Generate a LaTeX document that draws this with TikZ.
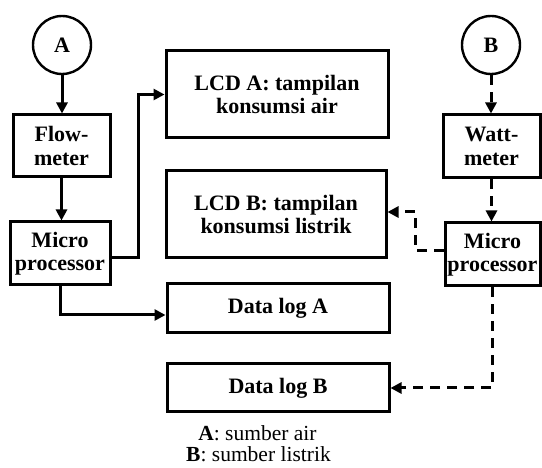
\documentclass[tikz,border=0pt]{standalone}
\usepackage{fontspec}
\setmainfont{Liberation Serif}
\usetikzlibrary{arrows.meta}
\begin{document}
\begin{tikzpicture}[x=1pt,y=-1pt,
  box/.style={draw,line width=3pt,inner sep=0pt,align=center,font=\fontsize{22}{23.5}\selectfont\bfseries},
  src/.style={draw,circle,line width=2.4pt,inner sep=0pt,minimum size=58pt,font=\fontsize{22}{23.5}\selectfont\bfseries},
  arr/.style={line width=3pt,-{Triangle[length=11pt,width=11pt]}},
  darr/.style={arr,dash pattern=on 10pt off 7pt},
  leg/.style={anchor=base,inner sep=0pt,font=\fontsize{21.5}{23}\selectfont}]
\useasboundingbox (0,0) rectangle (542,468);
\node[src] (cA) at (62,45) {A};
\node[box,minimum width=97pt,minimum height=62pt] (flow) at (61.5,146) {Flow-\\meter};
\node[box,minimum width=100pt,minimum height=63pt] (microA) at (60,253.5) {Micro\\processor};
\node[box,minimum width=222pt,minimum height=87pt] (lcdA) at (277,94.5) {LCD A: tampilan\\konsumsi air};
\node[box,minimum width=220pt,minimum height=87pt] (lcdB) at (276,214.5) {LCD B: tampilan\\konsumsi listrik};
\node[box,minimum width=222pt,minimum height=49pt] (logA) at (278,308.5) {Data log A};
\node[box,minimum width=222pt,minimum height=48pt] (logB) at (278,388) {Data log B};
\node[src] (cB) at (491,45) {B};
\node[box,minimum width=97pt,minimum height=63pt] (watt) at (491.5,146.5) {Watt-\\meter};
\node[box,minimum width=95pt,minimum height=63pt] (microB) at (492.5,254.5) {Micro\\processor};
\node[leg] (legA) at (257.5,441) {\textbf{A}: sumber air};
\node[leg] (legB) at (258.5,462) {\textbf{B}: sumber listrik};
% A chain
\draw[arr] (cA.south) -- (cA.south |- flow.north);
\draw[arr] (flow.south) -- (flow.south |- microA.north);
\draw[arr] ([yshift=-4.5pt]microA.east) -- ++(27,0) |- (lcdA.west);
\draw[arr] (microA.south) |- ([yshift=-6.5pt]logA.west);
% B chain
\draw[darr] (cB.south) -- (cB.south |- watt.north);
\draw[darr] (watt.south) -- (watt.south |- microB.north);
\draw[darr] ([yshift=3.5pt]microB.west) -- ++(-28,0) |- ([yshift=2.5pt]lcdB.east);
\draw[darr] (microB.south) |- (logB.east);
\end{tikzpicture}
\end{document}
